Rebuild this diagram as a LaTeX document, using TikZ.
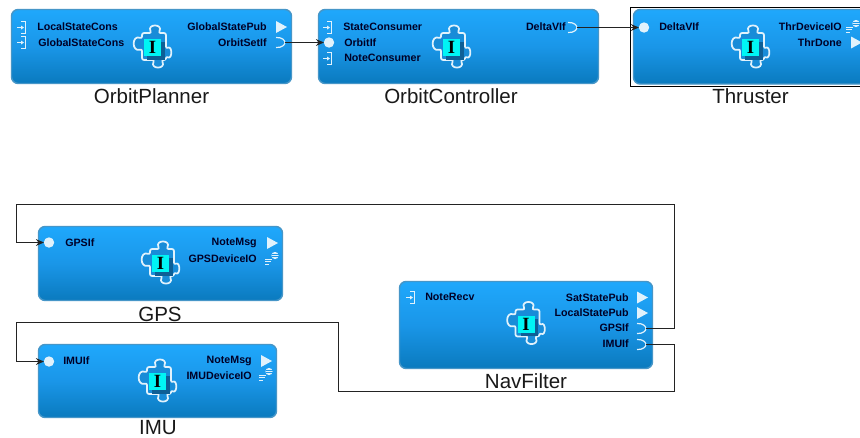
\documentclass[tikz,border=0pt]{standalone}
\usepackage{fontspec}
\setmainfont{Liberation Sans}
\usetikzlibrary{arrows.meta}
\definecolor{boxtop}{RGB}{31,168,252}
\definecolor{boxmid}{RGB}{26,150,232}
\definecolor{boxbot}{RGB}{10,122,190}
\definecolor{boxedge}{RGB}{70,150,200}
\definecolor{iconw}{RGB}{225,242,252}
\definecolor{cyanbox}{RGB}{0,245,245}
\definecolor{pieceblue}{RGB}{24,140,216}
\definecolor{shadowblue}{RGB}{14,95,150}
\definecolor{wirecol}{RGB}{35,35,35}
\tikzset{
  compbox/.style={rounded corners=5pt,draw=boxedge,line width=1.1pt,top color=boxtop,bottom color=boxbot,middle color=boxmid,inner sep=0pt},
  portlab/.style={font=\fontsize{8}{9}\selectfont\bfseries,text=black!85!blue,inner sep=0pt},
  complab/.style={font=\fontsize{15.4}{18}\selectfont,text=black!90,inner sep=0pt},
  wire/.style={draw=wirecol,line width=1.05pt},
  wirearrow/.style={wire,-{Stealth[length=6pt,width=5pt]}},
  iconline/.style={draw=iconw,line width=0.5pt},
}
% component box: name, x1, y1, x2, y2
\newcommand{\mkbox}[5]{%
  \pgfmathsetmacro{\bw}{(#4-#2)*0.75}%
  \pgfmathsetmacro{\bh}{(#5-#3)*0.75}%
  \node[compbox,minimum width=\bw pt,minimum height=\bh pt] (#1) at ({(#2+#4)/2},{(#3+#5)/2}) {};}
% puzzle icon at centre of cyan square
\newcommand{\puzzle}[2]{%
  \begin{scope}[shift={(#1,#2)}]
    \draw[draw=iconw,line width=1.3pt,line join=round,rounded corners=1.5pt,fill=pieceblue]
      (-10.5,-14.5) -- (-1,-14.5) .. controls (-6,-24) and (11,-24) .. (6,-14.5)
      -- (13.5,-14.5) -- (13.5,1) .. controls (20,-2) and (20,12) .. (13.5,9)
      -- (13.5,12.5) -- (9,12.5) .. controls (14,22) and (-3,22) .. (2,12.5)
      -- (-10.5,12.5) -- (-10.5,1.5) .. controls (-21,5) and (-21,-13) .. (-10.5,-9) -- cycle;
    \fill[shadowblue] (-5.5,-5.5) rectangle (12,12);
    \fill[cyanbox] (-8.5,-8.5) rectangle (8.5,8.5);
    \node[font=\fontsize{14}{14}\selectfont\bfseries,inner sep=0pt,text=black] at (0,0) {\fontspec{Liberation Serif}I};
  \end{scope}}
% provided arrow
\newcommand{\pubicon}[3]{\coordinate (#1) at (#2,#3);
  \fill[iconw] (#2-5,#3-6) -- (#2+6,#3) -- (#2-5,#3+6) -- cycle;}
% receptacle
\newcommand{\recicon}[3]{\coordinate (#1) at (#2,#3);
  \draw[iconw,line width=0.9pt] (#2-5,#3-5) .. controls (#2+1,#3-5.5) and (#2+4,#3-2) .. (#2+4,#3)
     .. controls (#2+4,#3+2) and (#2+1,#3+5.5) .. (#2-5,#3+5);}
% circle
\newcommand{\sockicon}[3]{\coordinate (#1) at (#2-5,#3);
  \fill[iconw] (#2,#3) circle[radius=5.2];}
% consumer
\newcommand{\consicon}[2]{%
  \draw[iconline] (#1,#2-6) -- (#1+4,#2-6) -- (#1+4,#2+6) -- (#1,#2+6);
  \draw[iconline] (#1-4,#2) -- (#1+1,#2);
  \fill[iconw] (#1+3,#2) -- (#1,#2-2) -- (#1,#2+2) -- cycle;}
% device IO
\newcommand{\devicon}[2]{%
  \draw[iconline,line width=0.7pt] (#1-5,#2+1) -- (#1+2,#2+1) (#1-5,#2+3.5) -- (#1+1,#2+3.5) (#1-5,#2+6) -- (#1-1,#2+6);
  \fill[iconw] (#1+5,#2-2.5) circle[radius=3.6];
  \draw[draw=boxmid,line width=0.4pt] (#1+1.5,#2-3.5) -- (#1+8.5,#2-3.5) (#1+1.5,#2-1.5) -- (#1+8.5,#2-1.5);}
\newcommand{\lablft}[4]{\node[portlab,anchor=west] (#1) at (#2,#3) {#4};}
\newcommand{\labrgt}[4]{\node[portlab,anchor=east] (#1) at (#2,#3) {#4};}
\begin{document}
\begin{tikzpicture}[x=0.75pt,y=-0.75pt]
\useasboundingbox (0,0) rectangle (860,437);
\clip (0,0) rectangle (860,437);
\fill[white] (0,0) rectangle (860,437);
% Thruster selection frame
\draw[draw=black,line width=0.7pt] (630.5,7.5) rectangle (880,86.5);
% boxes
\mkbox{OP}{11.5}{9.5}{291.5}{83.5}
\mkbox{OC}{318.5}{9.5}{598.5}{83.5}
\mkbox{TH}{633.5}{9.5}{900}{84}
\mkbox{GP}{38.5}{226.5}{282.5}{300.5}
\mkbox{IM}{38.5}{344.5}{276.5}{417.5}
\mkbox{NF}{399.5}{281.5}{652.5}{368.5}
% OrbitPlanner
\consicon{21}{27.5}\consicon{21}{42.5}
\lablft{op1}{37}{27}{LocalStateCons}
\lablft{op2}{38}{42.5}{GlobalStateCons}
\labrgt{op3}{267}{27}{GlobalStatePub}
\labrgt{op4}{267}{42.5}{OrbitSetIf}
\pubicon{opa}{281}{27}
\recicon{opb}{281}{42.5}
\puzzle{152.5}{47.5}
\node[complab] (opl) at (151.5,96) {OrbitPlanner};
% OrbitController
\consicon{327}{27.5}\consicon{327}{58.5}
\sockicon{ocb}{329}{42.5}
\lablft{oc1}{343}{27}{StateConsumer}
\lablft{oc2}{344}{42.5}{OrbitIf}
\lablft{oc3}{344}{58}{NoteConsumer}
\labrgt{oc4}{566}{27}{DeltaVIf}
\recicon{ocr}{573}{27.5}
\puzzle{451.5}{47.5}
\node[complab] (ocl) at (451,96) {OrbitController};
% Thruster
\sockicon{tha}{644}{27.5}
\lablft{th1}{659}{27}{DeltaVIf}
\labrgt{th2}{842}{27}{ThrDeviceIO}
\labrgt{th3}{842}{42.5}{ThrDone}
\devicon{851}{26}
\pubicon{thb}{856}{42.5}
\puzzle{750.5}{47.5}
\node[complab] (thl) at (750.5,96) {Thruster};
% GPS
\sockicon{gpa}{49}{242.5}
\lablft{gp1}{65}{243}{GPSIf}
\labrgt{gp2}{257}{243}{NoteMsg}
\labrgt{gp3}{257}{259}{GPSDeviceIO}
\pubicon{gpb}{272}{243}
\devicon{270}{258}
\puzzle{160.5}{263.5}
\node[complab] (gpl) at (160,314) {GPS};
% IMU
\sockicon{ima}{49}{361.5}
\lablft{im1}{63}{361}{IMUIf}
\labrgt{im2}{252}{361}{NoteMsg}
\labrgt{im3}{252}{376}{IMUDeviceIO}
\pubicon{imb}{266}{361}
\devicon{264}{374}
\puzzle{157.5}{381.5}
\node[complab] (iml) at (158,427.5) {IMU};
% NavFilter
\consicon{410}{297.5}
\lablft{nf1}{425}{297}{NoteRecv}
\labrgt{nf2}{629}{297.5}{SatStatePub}
\labrgt{nf3}{629}{313}{LocalStatePub}
\labrgt{nf4}{629}{328}{GPSIf}
\labrgt{nf5}{629}{344}{IMUIf}
\pubicon{nfa}{642}{297.5}
\pubicon{nfb}{642}{313}
\recicon{nfc}{642}{328.5}
\recicon{nfd}{642}{344.5}
\puzzle{526}{324}
\node[complab] (nfl) at (526,381) {NavFilter};
% corner coordinates for wires
\coordinate (g1) at (674.5,204.5);
\coordinate (g2) at (16.5,204.5);
\coordinate (i1) at (674.5,391.5);
\coordinate (i2) at (338.5,391.5);
\coordinate (i3) at (338.5,322.5);
\coordinate (i4) at (16.5,322.5);
% connectors
\draw[wirearrow] (opb) ++(4,0) -- (ocb);
\draw[wirearrow] (ocr) ++(4,0) -- (tha);
\draw[wirearrow] (nfc) ++(4,0) -| (g1) -- (g2) |- (gpa);
\draw[wirearrow] (nfd) ++(4,0) -| (i1) -- (i2) -- (i3) -- (i4) |- (ima);
\end{tikzpicture}
\end{document}
